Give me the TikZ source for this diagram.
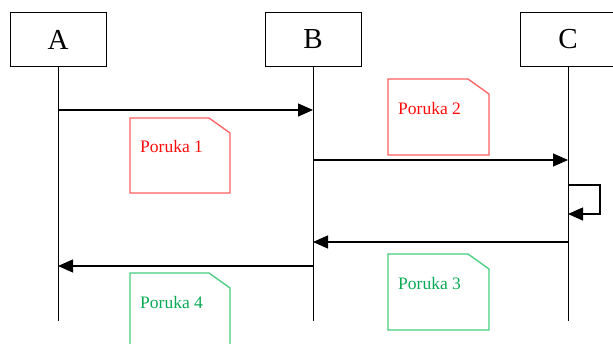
\documentclass[tikz,border=0pt]{standalone}
\usepackage{fontspec}
\setmainfont{Liberation Serif}
\usetikzlibrary{arrows.meta,positioning}

\definecolor{noteRed}{RGB}{255,95,95}
\definecolor{textRed}{RGB}{255,10,10}
\definecolor{noteGreen}{RGB}{70,205,125}
\definecolor{textGreen}{RGB}{10,170,85}

\begin{document}
\begin{tikzpicture}[x=1pt, y=-1pt,
  actor/.style={draw, line width=1pt, minimum width=96pt, minimum height=54pt,
    inner sep=0pt, font=\fontsize{29}{30}\selectfont},
  lifeline/.style={line width=1pt},
  msg/.style={line width=1.2pt, -{Triangle[length=15pt,width=13pt]}},
  rednote/.style={noteRed, line width=1.3pt},
  greennote/.style={noteGreen, line width=1.3pt},
  notetext/.style={anchor=west, inner sep=0pt, font=\fontsize{17.5}{18}\selectfont}]
\useasboundingbox (0,0) rectangle (613,344);

% Objects
\node[actor] (A) at (58,39.5) {A};
\node[actor, right=158pt of A] (B) {B};
\node[actor, right=158pt of B] (C) {C};

% Lifelines
\coordinate (Aend) at (A |- 0,321);
\coordinate (Bend) at (B |- 0,321);
\coordinate (Cend) at (C |- 0,321);
\draw[lifeline] (A.south) -- (Aend);
\draw[lifeline] (B.south) -- (Bend);
\draw[lifeline] (C.south) -- (Cend);

% Message points
\coordinate (a1) at (A |- 0,110);
\coordinate (b1) at (B |- 0,110);
\coordinate (b2) at (B |- 0,160);
\coordinate (c2) at (C |- 0,160);
\coordinate (c3) at (C |- 0,185);
\coordinate (c4) at (C |- 0,214);
\coordinate (c5) at (C |- 0,242);
\coordinate (b5) at (B |- 0,242);
\coordinate (b6) at (B |- 0,266);
\coordinate (a6) at (A |- 0,266);

% Messages
\draw[msg] (a1) -- (b1);
\draw[msg] (b2) -- (c2);
\draw[msg] (c3) -- ++(32,0) |- (c4);
\draw[msg] (c5) -- (b5);
\draw[msg] (b6) -- (a6);

% Notes (red)
\draw[rednote] (130,118) -- (209,118) -- (230,133) -- (230,193) -- (130,193) -- cycle;
\node[notetext, textRed] (p1) at (140,147) {Poruka 1};
\draw[rednote] (388,79) -- (468,79) -- (489,94) -- (489,155) -- (388,155) -- cycle;
\node[notetext, textRed] (p2) at (398,109) {Poruka 2};

% Notes (green)
\draw[greennote] (388,254) -- (468,254) -- (489,269) -- (489,330) -- (388,330) -- cycle;
\node[notetext, textGreen] (p3) at (398,284) {Poruka 3};
\draw[greennote] (130,273) -- (209,273) -- (230,288) -- (230,348) -- (130,348) -- cycle;
\node[notetext, textGreen] (p4) at (140,303) {Poruka 4};
\end{tikzpicture}
\end{document}
